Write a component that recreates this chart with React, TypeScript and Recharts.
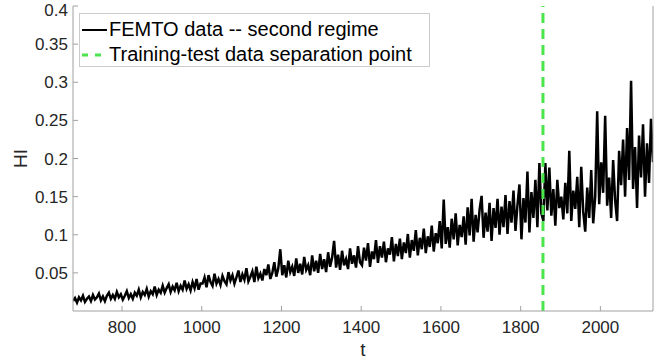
import React from 'react';
import { LineChart, Line, XAxis, YAxis, ReferenceLine, Legend, Label } from 'recharts';

const FONT = '"Liberation Sans", Arial, Helvetica, sans-serif';

// time axis sampling (t = T_START + i * T_STEP)
const T_START = 677;
const T_STEP = 5;

// HI values, split by time range
// t = 677 .. 997
const hiSegmentA = [
  0.013, 0.017, 0.011, 0.018, 0.014, 0.020, 0.012, 0.016, 0.019, 0.013,
  0.021, 0.015, 0.018, 0.023, 0.014, 0.019, 0.013, 0.020, 0.024, 0.016,
  0.021, 0.016, 0.025, 0.018, 0.022, 0.015, 0.020, 0.026, 0.017, 0.022,
  0.016, 0.024, 0.020, 0.028, 0.018, 0.025, 0.021, 0.029, 0.019, 0.026,
  0.022, 0.032, 0.021, 0.028, 0.024, 0.033, 0.024, 0.030, 0.035, 0.025,
  0.032, 0.027, 0.037, 0.026, 0.033, 0.028, 0.040, 0.029, 0.035, 0.027,
  0.038, 0.030, 0.042, 0.028, 0.036,
];
// t = 1002 .. 1397
const hiSegmentB = [
  0.036, 0.044, 0.031, 0.047, 0.038, 0.033, 0.049, 0.036, 0.042, 0.034,
  0.046, 0.039, 0.035, 0.051, 0.040, 0.047, 0.036, 0.044, 0.053, 0.038,
  0.048, 0.041, 0.056, 0.039, 0.045, 0.052, 0.038, 0.058, 0.043, 0.049,
  0.040, 0.055, 0.047, 0.061, 0.042, 0.050, 0.064, 0.045, 0.056, 0.081,
  0.047, 0.060, 0.044, 0.066, 0.051, 0.058, 0.046, 0.069, 0.050, 0.062,
  0.048, 0.071, 0.054, 0.060, 0.047, 0.073, 0.052, 0.066, 0.050, 0.075,
  0.055, 0.068, 0.051, 0.077, 0.058, 0.070, 0.092, 0.057, 0.074, 0.054,
  0.079, 0.060, 0.068, 0.055, 0.082, 0.062, 0.073, 0.057, 0.085, 0.064,
];
// t = 1402 .. 1852
const hiSegmentC = [
  0.060, 0.083, 0.066, 0.089, 0.058, 0.078, 0.068, 0.093, 0.063, 0.085,
  0.070, 0.091, 0.064, 0.082, 0.074, 0.097, 0.065, 0.088, 0.072, 0.095,
  0.068, 0.090, 0.076, 0.101, 0.070, 0.093, 0.079, 0.106, 0.073, 0.096,
  0.081, 0.108, 0.076, 0.098, 0.084, 0.112, 0.078, 0.102, 0.089, 0.118,
  0.082, 0.146, 0.088, 0.110, 0.083, 0.121, 0.094, 0.128, 0.086, 0.113,
  0.097, 0.124, 0.087, 0.136, 0.099, 0.147, 0.091, 0.126, 0.103, 0.133,
  0.151, 0.096, 0.129, 0.104, 0.142, 0.092, 0.135, 0.109, 0.147, 0.100,
  0.137, 0.110, 0.152, 0.101, 0.144, 0.116, 0.158, 0.105, 0.139, 0.166,
  0.094, 0.148, 0.116, 0.183, 0.103, 0.156, 0.122, 0.172, 0.110, 0.194,
  0.128,
];
// t = 1857 .. 2132
const hiSegmentD = [
  0.118, 0.194, 0.132, 0.188, 0.125, 0.160, 0.112, 0.172, 0.135, 0.150,
  0.120, 0.168, 0.128, 0.210, 0.118, 0.158, 0.134, 0.176, 0.110, 0.189,
  0.130, 0.104, 0.162, 0.122, 0.185, 0.115, 0.150, 0.262, 0.140, 0.195,
  0.155, 0.256, 0.138, 0.175, 0.122, 0.198, 0.145, 0.118, 0.210, 0.165,
  0.225, 0.150, 0.240, 0.172, 0.302, 0.160, 0.215, 0.135, 0.230, 0.175,
  0.245, 0.150, 0.220, 0.168, 0.252, 0.195,
];

const xTicks = [800, 1000, 1200, 1400, 1600, 1800, 2000];
const yTicks = [0.05, 0.1, 0.15, 0.2, 0.25, 0.3, 0.35, 0.4];
const xDomain = [677, 2132];
const yDomain = [0, 0.4];
const separationT = 1856;
const seriesNames = ['FEMTO data -- second regime', 'Training-test data separation point'];

const hiValues = [...hiSegmentA, ...hiSegmentB, ...hiSegmentC, ...hiSegmentD];
const data = hiValues.map((hi, i) => ({ t: T_START + i * T_STEP, hi }));

const AXIS = '#a0a0a0';
const TEXT = '#262626';
const GREEN = '#4ce44c';

const LegendBox = () => (
  <div
    style={{
      width: 351,
      height: 54,
      boxSizing: 'border-box',
      border: '1px solid #cccccc',
      background: '#ffffff',
      fontFamily: FONT,
      fontSize: 20,
      color: '#000',
      paddingTop: 3,
    }}
  >
    <div style={{ display: 'flex', alignItems: 'center', height: 25 }}>
      <svg width={26} height={10} style={{ marginLeft: 2 }}>
        <line x1={0} y1={5} x2={25} y2={5} stroke="#000" strokeWidth={2} />
      </svg>
      <span style={{ marginLeft: 1, whiteSpace: 'nowrap' }}>{seriesNames[0]}</span>
    </div>
    <div style={{ display: 'flex', alignItems: 'center', height: 25 }}>
      <svg width={26} height={10} style={{ marginLeft: 2 }}>
        <line x1={0} y1={5} x2={25} y2={5} stroke={GREEN} strokeWidth={3} strokeDasharray="6 7" />
      </svg>
      <span style={{ marginLeft: 1, whiteSpace: 'nowrap' }}>{seriesNames[1]}</span>
    </div>
  </div>
);

export default function App() {
  return (
    <div style={{ position: 'absolute', left: 0, top: 0, width: 654, height: 363, background: '#fff' }}>
      <LineChart
        width={654}
        height={363}
        data={data}
        margin={{ top: 6, right: 0, bottom: 0, left: 0 }}
        style={{ fontFamily: FONT }}
      >
        <XAxis
          dataKey="t"
          type="number"
          domain={xDomain}
          ticks={xTicks}
          allowDataOverflow
          height={52}
          stroke={AXIS}
          tickSize={-5}
          tickMargin={15}
          tick={{ fill: TEXT, fontSize: 17, fontFamily: FONT }}
        >
          <Label value="t" position="insideBottom" offset={7} style={{ fill: TEXT, fontSize: 19, fontFamily: FONT }} />
        </XAxis>
        <XAxis
          xAxisId="top"
          orientation="top"
          type="number"
          domain={xDomain}
          ticks={xTicks}
          allowDataOverflow
          height={0}
          stroke={AXIS}
          tickSize={-5}
          tick={false}
        />
        <YAxis
          type="number"
          domain={yDomain}
          ticks={yTicks}
          allowDataOverflow
          width={73}
          stroke={AXIS}
          tickSize={-5}
          tickMargin={10}
          tickFormatter={(v) => String(v)}
          tick={{ fill: TEXT, fontSize: 17, fontFamily: FONT }}
        >
          <Label
            value="HI"
            angle={-90}
            position="insideLeft"
            offset={20}
            style={{ fill: TEXT, fontSize: 19, fontFamily: FONT, textAnchor: 'middle' }}
          />
        </YAxis>
        <YAxis
          yAxisId="right"
          orientation="right"
          type="number"
          domain={yDomain}
          ticks={yTicks}
          allowDataOverflow
          width={1}
          stroke={AXIS}
          tickSize={-5}
          tick={false}
        />
        <Line
          dataKey="hi"
          type="linear"
          stroke="#000000"
          strokeWidth={2.5}
          dot={false}
          activeDot={false}
          isAnimationActive={false}
        />
        <ReferenceLine x={separationT} stroke={GREEN} strokeWidth={3} strokeDasharray="10 6" />
        <Legend
          layout="vertical"
          align="center"
          verticalAlign="middle"
          content={() => <LegendBox />}
          wrapperStyle={{ left: 79, top: 13, width: 351, height: 54 }}
        />
      </LineChart>
    </div>
  );
}
